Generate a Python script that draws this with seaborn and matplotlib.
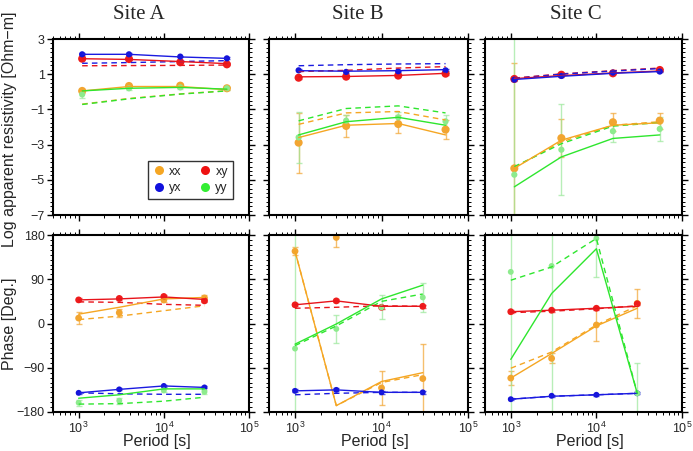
import numpy as np
import pandas as pd
import matplotlib
matplotlib.use("Agg")
import matplotlib.pyplot as plt
import seaborn as sns
from matplotlib.ticker import MultipleLocator, LogLocator, NullFormatter, FixedLocator
from matplotlib.lines import Line2D

sns.set_style("ticks")
plt.rcParams["font.family"] = ["Liberation Sans", "DejaVu Sans"]
plt.rcParams["mathtext.fontset"] = "custom"
plt.rcParams["mathtext.rm"] = "Liberation Sans"
plt.rcParams["mathtext.it"] = "Liberation Sans:italic"

# ---------------- data ----------------
SITES = ["Site A", "Site B", "Site C"]
COMPONENTS = ["xx", "xy", "yx", "yy"]
PERIOD_RHO = [1100, 3900, 15600, 55000]
PERIOD_PHS = [1000, 3000, 10000, 30000]

# Site A - log apparent resistivity
A_rho_obs = {"xx": [0.05, 0.33, 0.35, 0.20], "xy": [1.88, 1.86, 1.68, 1.56],
             "yx": [2.13, 2.13, 2.00, 1.90], "yy": [-0.15, 0.20, 0.25, 0.20]}
A_rho_err = {"xx": [0.12, 0.08, 0.08, 0.08], "xy": [0.06, 0.06, 0.06, 0.06],
             "yx": [0.05, 0.05, 0.05, 0.05], "yy": [0.22, 0.08, 0.08, 0.08]}
A_rho_m1 = {"xx": [0.05, 0.30, 0.30, 0.12], "xy": [1.88, 1.84, 1.72, 1.60],
            "yx": [2.13, 2.13, 1.98, 1.90], "yy": [0.05, 0.20, 0.25, 0.15]}
A_rho_m2 = {"xx": [-0.70, -0.38, -0.12, 0.06], "xy": [1.48, 1.49, 1.50, 1.52],
            "yx": [1.62, 1.66, 1.72, 1.77], "yy": [-0.72, -0.40, -0.13, 0.05]}

# Site B - log apparent resistivity
B_rho_obs = {"xx": [-2.89, -1.94, -1.83, -2.15], "xy": [0.80, 0.86, 0.92, 1.03],
             "yx": [1.22, 1.13, 1.16, 1.22], "yy": [-2.59, -1.64, -1.45, -1.68]}
B_rho_err = {"xx": [1.70, 0.60, 0.50, 0.55], "xy": [0.05, 0.05, 0.05, 0.05],
             "yx": [0.05, 0.05, 0.05, 0.05], "yy": [1.45, 0.35, 0.30, 0.35]}
B_rho_m1 = {"xx": [-2.60, -1.90, -1.80, -2.45], "xy": [0.85, 0.87, 0.93, 1.05],
            "yx": [1.20, 1.17, 1.20, 1.26], "yy": [-2.45, -1.70, -1.45, -1.90]}
B_rho_m2 = {"xx": [-1.85, -1.20, -1.12, -1.60], "xy": [1.15, 1.22, 1.35, 1.43],
            "yx": [1.48, 1.54, 1.58, 1.60], "yy": [-1.65, -0.95, -0.80, -1.20]}

# Site C - log apparent resistivity
C_rho_obs = {"xx": [-4.35, -2.63, -1.73, -1.64], "xy": [0.73, 0.97, 1.05, 1.24],
             "yx": [0.69, 0.90, 1.09, 1.15], "yy": [-4.71, -3.29, -2.24, -2.11]}
C_rho_err = {"xx": [6.00, 1.10, 0.50, 0.45], "xy": [0.06, 0.06, 0.06, 0.06],
             "yx": [0.05, 0.05, 0.05, 0.05], "yy": [12.0, 2.60, 0.60, 0.70]}
C_rho_m1 = {"xx": [-4.35, -2.75, -1.90, -1.76], "xy": [0.75, 0.92, 1.07, 1.18],
            "yx": [0.70, 0.88, 1.05, 1.15], "yy": [-5.40, -3.70, -2.65, -2.45]}
C_rho_m2 = {"xx": [-4.30, -2.85, -1.90, -1.70], "xy": [0.78, 1.02, 1.20, 1.35],
            "yx": [0.76, 1.00, 1.18, 1.32], "yy": [-4.25, -2.95, -1.95, -1.75]}

# Site A - phase
A_phs_obs = {"xx": [11, 22, 48, 52], "xy": [48, 51, 55, 46],
             "yx": [-141, -134, -127, -130], "yy": [-161, -157, -136, -139]}
A_phs_err = {"xx": [12, 8, 5, 5], "xy": [3, 3, 3, 3],
             "yx": [2, 2, 2, 2], "yy": [6, 6, 4, 4]}
A_phs_m1 = {"xx": [19, 33, 50, 53], "xy": [48, 50, 54, 49],
            "yx": [-141, -134, -127, -130], "yy": [-152, -145, -133, -133]}
A_phs_m2 = {"xx": [8, 15, 26, 36], "xy": [44, 43, 39, 37],
            "yx": [-141, -143, -144, -144], "yy": [-164, -163, -158, -150]}

# Site B - phase
B_phs_obs = {"xx": [147, 175, -131, -112], "xy": [38, 46, 33, 35],
             "yx": [-137, -135, -140, -140], "yy": [-51, -11, 33, 53]}
B_phs_err = {"xx": [8, 20, 35, 70], "xy": [3, 3, 3, 3],
             "yx": [3, 3, 3, 3], "yy": [300, 28, 24, 30]}
B_phs_m1 = {"xx": [147, -167, -118, -100], "xy": [38, 46, 35, 35],
            "yx": [-137, -135, -140, -140], "yy": [-42, -1, 50, 78]}
B_phs_m2 = {"xx": [147, -167, -120, -104], "xy": [31, 33, 36, 35],
            "yx": [-145, -142, -140, -140], "yy": [-45, -5, 45, 60]}

# Site C - phase
C_phs_obs = {"xx": [-111, -71, -3, 41], "xy": [24, 27, 31, 40],
             "yx": [-154, -147, -145, -142], "yy": [105, 117, 173, -142]}
C_phs_err = {"xx": [15, 10, 32, 30], "xy": [3, 3, 3, 3],
             "yx": [2, 2, 2, 2], "yy": [300, 300, 78, 62]}
C_phs_m1 = {"xx": [-111, -61, -5, 31], "xy": [24, 27, 31, 35],
            "yx": [-154, -148, -145, -142], "yy": [-73, 61, 152, -142]}
C_phs_m2 = {"xx": [-91, -58, -3, 36], "xy": [22, 25, 30, 36],
            "yx": [-154, -148, -145, -142], "yy": [88, 115, 173, -142]}

RHO = {"Site A": (A_rho_obs, A_rho_err, A_rho_m1, A_rho_m2),
       "Site B": (B_rho_obs, B_rho_err, B_rho_m1, B_rho_m2),
       "Site C": (C_rho_obs, C_rho_err, C_rho_m1, C_rho_m2)}
PHS = {"Site A": (A_phs_obs, A_phs_err, A_phs_m1, A_phs_m2),
       "Site B": (B_phs_obs, B_phs_err, B_phs_m1, B_phs_m2),
       "Site C": (C_phs_obs, C_phs_err, C_phs_m1, C_phs_m2)}

# ---------------- style ----------------
LINE_COLORS = {"xx": "#F5A623", "xy": "#E8141B", "yx": "#1A1AE0", "yy": "#2EE62E"}
MARK_COLORS = {"xx": "#F2A531", "xy": "#EE1C1C", "yx": "#1414D8", "yy": "#8DEB8D"}
ERR_COLORS = {"xx": "#F2A531", "xy": "#EE1C1C", "yx": "#1414D8", "yy": "#9BE89B"}
LEGEND_COLORS = {"xx": "#F5A623", "xy": "#EE1111", "yx": "#1111DD", "yy": "#33EE33"}


def frame(d, periods):
    rows = []
    for comp in COMPONENTS:
        for p, v in zip(periods, d[comp]):
            rows.append({"period": p, "value": v, "comp": comp})
    return pd.DataFrame(rows)


W, H = 693, 451
fig = plt.figure(figsize=(W / 100, H / 100), dpi=100)
LEFTS = [53, 269, 485]
WIDTHS = [196, 199, 197]
ROWS = [(39, 215), (235, 412)]


def rect(l, w, t, b):
    return [l / W, 1 - b / H, w / W, (b - t) / H]


def style_axes(ax, row, col):
    ax.set_xscale("log")
    ax.set_xlim(500, 1e5)
    ax.xaxis.set_major_locator(LogLocator(base=10, numticks=10))
    ax.xaxis.set_minor_locator(LogLocator(base=10, subs=np.arange(2, 10), numticks=10))
    ax.xaxis.set_minor_formatter(NullFormatter())
    if row == 0:
        ax.set_ylim(-7, 3)
        ax.yaxis.set_major_locator(FixedLocator([-7, -5, -3, -1, 1, 3]))
        ax.yaxis.set_minor_locator(MultipleLocator(0.25))
    else:
        ax.set_ylim(-180, 180)
        ax.yaxis.set_major_locator(MultipleLocator(90))
        ax.yaxis.set_minor_locator(MultipleLocator(10))
    ax.tick_params(which="both", direction="out", top=True, right=True,
                   labelsize=9, pad=2, color="black")
    ax.tick_params(which="major", length=4, width=1.0)
    ax.tick_params(which="minor", length=2, width=0.7)
    ax.tick_params(labelbottom=(row == 1), labelleft=(col == 0))
    for s in ax.spines.values():
        s.set_linewidth(1.5)
        s.set_color("black")
    ax.set_xlabel("")
    ax.set_ylabel("")


SIZES = {"xx": 34, "xy": 34, "yx": 20, "yy": 20}
SIZES_P = {"xx": 24, "xy": 24, "yx": 18, "yy": 18}

axes = {}
for row, (data, periods) in enumerate([(RHO, PERIOD_RHO), (PHS, PERIOD_PHS)]):
    for col, site in enumerate(SITES):
        ax = fig.add_axes(rect(LEFTS[col], WIDTHS[col], *ROWS[row]))
        ax.set_xscale("log")
        obs, err, m1, m2 = data[site]
        for comp in COMPONENTS:
            ax.errorbar(periods, obs[comp], yerr=err[comp], fmt="none",
                        ecolor=ERR_COLORS[comp], elinewidth=1.0, capsize=2,
                        alpha=0.7, zorder=1)
        sns.scatterplot(data=frame(obs, periods), x="period", y="value",
                        hue="comp", size="comp",
                        sizes=SIZES if row == 0 else SIZES_P,
                        palette=MARK_COLORS, edgecolor="none", linewidth=0,
                        legend=False, ax=ax, zorder=2)
        sns.lineplot(data=frame(m2, periods), x="period", y="value", hue="comp",
                     palette=LINE_COLORS, estimator=None, sort=False,
                     legend=False, ax=ax, linewidth=1.0, linestyle=(0, (4, 3)),
                     zorder=3)
        sns.lineplot(data=frame(m1, periods), x="period", y="value", hue="comp",
                     palette=LINE_COLORS, estimator=None, sort=False,
                     legend=False, ax=ax, linewidth=1.0, zorder=4)
        style_axes(ax, row, col)
        axes[(row, col)] = ax

# titles
TITLE_X = [139, 358, 576]
for col, site in enumerate(SITES):
    fig.text(TITLE_X[col] / W, 1 - 19 / H, site, ha="center", va="baseline",
             fontsize=15, family=["Liberation Serif", "DejaVu Serif"])

# axis labels
axes[(0, 0)].set_ylabel("Log apparent resistivity [Ohm\u2212m]", fontsize=11.5)
axes[(0, 0)].yaxis.set_label_coords(-0.184, 0.49)
axes[(1, 0)].set_ylabel("Phase [Deg.]", fontsize=11.5)
axes[(1, 0)].yaxis.set_label_coords(-0.184, 0.5)
for col in range(3):
    ax = axes[(1, col)]
    ax.set_xlabel("Period [s]", fontsize=11.5)
    ax.xaxis.set_label_coords(0.53, -0.125)

# legend
handles = [Line2D([], [], marker="o", linestyle="none", markersize=6.5,
                  markerfacecolor=LEGEND_COLORS[c], markeredgecolor="none",
                  label=c) for c in ["xx", "yx", "xy", "yy"]]
leg = axes[(0, 0)].legend(handles=handles, ncol=2, loc="lower right",
                          bbox_to_anchor=(0.95, 0.055), fontsize=9,
                          frameon=True, fancybox=False, handletextpad=0.3,
                          columnspacing=1.4, borderpad=0.4, labelspacing=0.35,
                          handlelength=1.0)
leg.get_frame().set_edgecolor("black")
leg.get_frame().set_linewidth(1.0)

fig.savefig("out.png", dpi=100)
